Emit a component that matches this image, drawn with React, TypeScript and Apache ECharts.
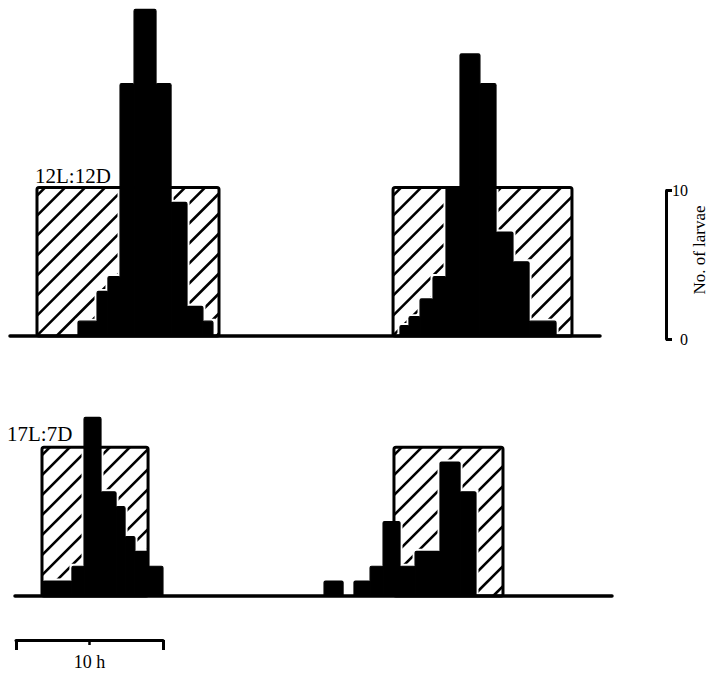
import React, { useEffect, useRef } from 'react';
import * as echarts from 'echarts';

// ---- data (time in hours, counts = number of larvae) ----
const panelLabels = ['12L:12D', '17L:7D'];
const darkLevel = 10;
// dark periods
const darkTop = [[1.83, 14.17], [25.97, 38.1]];
const darkBottom = [[2.17, 9.36], [26.03, 33.42]];

// 12L:12D, first cycle
const tlEdges = [4.61, 5.9, 6.64, 7.46, 8.41, 9.9, 10.92, 12.0, 13.08, 13.76];
const tlCounts = [1, 3, 4, 17, 22, 17, 9, 2, 1];
// 12L:12D, second cycle
const trEdges = [26.44, 27.05, 27.8, 28.68, 29.56, 30.51, 31.86, 32.95, 34.1, 35.19, 37.02];
const trCounts = [0.7, 1.3, 2.5, 4, 10, 19, 17, 7, 5, 1];
// 17L:7D, first cycle
const blEdges = [2.24, 4.2, 5.02, 6.17, 7.19, 7.8, 8.47, 9.36, 10.37];
const blCounts = [1, 2, 12, 7, 6, 4, 3, 2];
// 17L:7D, second cycle
const brEdges = [21.29, 22.58, 23.32, 24.41, 25.29, 26.44, 27.46, 29.15, 30.51, 31.59];
const brCounts = [1, 0, 1, 2, 5, 2, 3, 9, 7];

// scale bars
const larvaeScale = [0, 10];
const hourScale = [0, 10];
const larvaeName = 'No. of larvae';
const hourName = '10 h';

const FONT = 'Liberation Serif';

function toBins(edges: number[], counts: number[]) {
  return counts.map((c, i) => [edges[i], edges[i + 1], c]).filter((d) => d[2] > 0);
}
function toDark(periods: number[][]) {
  return periods.map((p) => [p[0], p[1], darkLevel]);
}

const hatchItem = (params: any, api: any) => {
  const s = api.value(0), e = api.value(1), lvl = api.value(2);
  const pa = api.coord([s, 0]);
  const pb = api.coord([e, lvl]);
  const x0 = pa[0], x1 = pb[0], yb = pa[1], yt = pb[1];
  const kids: any[] = [
    { type: 'rect', shape: { x: x0, y: yt, width: x1 - x0, height: yb - yt }, style: { fill: '#fff' } },
  ];
  const step = 20;
  for (let c = x0 + yt + 8; c < x1 + yb; c += step) {
    const xa = Math.max(x0, c - yb);
    const xb = Math.min(x1, c - yt);
    if (xb - xa > 0.5) {
      kids.push({
        type: 'line',
        shape: { x1: xa, y1: c - xa, x2: xb, y2: c - xb },
        style: { stroke: '#000', lineWidth: 2.6 },
      });
    }
  }
  return { type: 'group', children: kids };
};

const borderItem = (params: any, api: any) => {
  const pa = api.coord([api.value(0), 0]);
  const pb = api.coord([api.value(1), api.value(2)]);
  return {
    type: 'rect',
    shape: { x: pa[0], y: pb[1], width: pb[0] - pa[0], height: pa[1] - pb[1], r: 2 },
    style: { fill: 'none', stroke: '#000', lineWidth: 3 },
  };
};

const haloItem = (params: any, api: any) => {
  const pa = api.coord([api.value(0), 0]);
  const pb = api.coord([api.value(1), api.value(2)]);
  return {
    type: 'rect',
    shape: { x: pa[0], y: pb[1], width: pb[0] - pa[0], height: pa[1] - pb[1] },
    style: { fill: '#fff', stroke: '#fff', lineWidth: 5 },
  };
};

const barItem = (params: any, api: any) => {
  const pa = api.coord([api.value(0), 0]);
  const pb = api.coord([api.value(1), api.value(2)]);
  return {
    type: 'rect',
    shape: { x: pa[0], y: pb[1], width: pb[0] - pa[0], height: pa[1] - pb[1], r: [1.5, 1.5, 0, 0] },
    style: { fill: '#000', stroke: '#000', lineWidth: 1.2 },
  };
};

function panelSeries(idx: number, dark: number[][], bars: number[][]) {
  const common = {
    type: 'custom',
    coordinateSystem: 'cartesian2d',
    xAxisIndex: idx,
    yAxisIndex: idx,
    silent: true,
    clip: false,
    encode: { x: [0, 1], y: 2 },
  };
  return [
    { ...common, z: 1, data: dark, renderItem: hatchItem },
    { ...common, z: 2, data: bars, renderItem: haloItem },
    { ...common, z: 3, data: dark, renderItem: borderItem },
    { ...common, z: 4, data: bars, renderItem: barItem },
  ];
}

const baseAxis = {
  type: 'value',
  axisTick: { show: false },
  axisLabel: { show: false },
  splitLine: { show: false },
};

export default function App() {
  const ref = useRef<HTMLDivElement>(null);
  useEffect(() => {
    if (!ref.current) return;
    const chart = echarts.init(ref.current, undefined, { renderer: 'svg' });
    const option: any = {
      animation: false,
      backgroundColor: '#fff',
      grid: [
        { left: 10, top: 2, width: 590, height: 334 },
        { left: 15, top: 410, width: 597, height: 186 },
        { left: 665, top: 190.5, width: 1, height: 148.5 },
        { left: 16, top: 639, width: 147, height: 1 },
      ],
      xAxis: [
        {
          ...baseAxis, gridIndex: 0, min: 0, max: 40, z: 10,
          axisLine: { show: true, onZero: false, lineStyle: { color: '#000', width: 3.5 } },
        },
        {
          ...baseAxis, gridIndex: 1, min: 0.34, max: 40.81, z: 10,
          axisLine: { show: true, onZero: false, lineStyle: { color: '#000', width: 3.5 } },
        },
        { ...baseAxis, gridIndex: 2, show: false, min: 0, max: 1 },
        {
          type: 'value', gridIndex: 3, min: hourScale[0], max: hourScale[1], interval: 10,
          position: 'bottom',
          axisLine: { show: true, onZero: false, lineStyle: { color: '#000', width: 3 } },
          axisTick: { show: true, inside: false, length: 10, lineStyle: { color: '#000', width: 3 } },
          minorTick: { show: true, splitNumber: 2, length: 5, lineStyle: { color: '#000', width: 2.5 } },
          axisLabel: { show: false },
          splitLine: { show: false },
          name: hourName,
          nameLocation: 'middle',
          nameGap: 13,
          nameTextStyle: { fontFamily: FONT, fontSize: 18, color: '#000', verticalAlign: 'top' },
        },
      ],
      yAxis: [
        { ...baseAxis, gridIndex: 0, show: false, min: 0, max: 22.5 },
        { ...baseAxis, gridIndex: 1, show: false, min: 0, max: 12.5 },
        {
          type: 'value', gridIndex: 2, position: 'right', min: larvaeScale[0], max: larvaeScale[1], interval: 10,
          axisLine: { show: true, onZero: false, lineStyle: { color: '#000', width: 3 } },
          axisTick: { show: true, inside: false, length: 6, lineStyle: { color: '#000', width: 3 } },
          axisLabel: { show: true, align: 'right', margin: 22, fontFamily: FONT, fontSize: 16, color: '#000' },
          splitLine: { show: false },
        },
        { ...baseAxis, gridIndex: 3, show: false, min: 0, max: 1 },
      ],
      graphic: {
        elements: [
          {
            type: 'text', x: 35, y: 176, z: 100,
            style: { text: panelLabels[0], font: `21px "${FONT}"`, fill: '#000', textAlign: 'left', textVerticalAlign: 'middle' },
          },
          {
            type: 'text', x: 7, y: 434, z: 100,
            style: { text: panelLabels[1], font: `21px "${FONT}"`, fill: '#000', textAlign: 'left', textVerticalAlign: 'middle' },
          },
          {
            type: 'text', x: 699, y: 250, rotation: Math.PI / 2, z: 100,
            style: { text: larvaeName, font: `17px "${FONT}"`, fill: '#000', textAlign: 'center', textVerticalAlign: 'middle' },
          },
        ],
      },
      series: [
        ...panelSeries(0, toDark(darkTop), [...toBins(tlEdges, tlCounts), ...toBins(trEdges, trCounts)]),
        ...panelSeries(1, toDark(darkBottom), [...toBins(blEdges, blCounts), ...toBins(brEdges, brCounts)]),
      ],
    };
    chart.setOption(option);
    return () => chart.dispose();
  }, []);
  return (
    <div
      ref={ref}
      style={{ position: 'fixed', left: 0, top: 0, width: 708, height: 673, background: '#fff' }}
    />
  );
}
